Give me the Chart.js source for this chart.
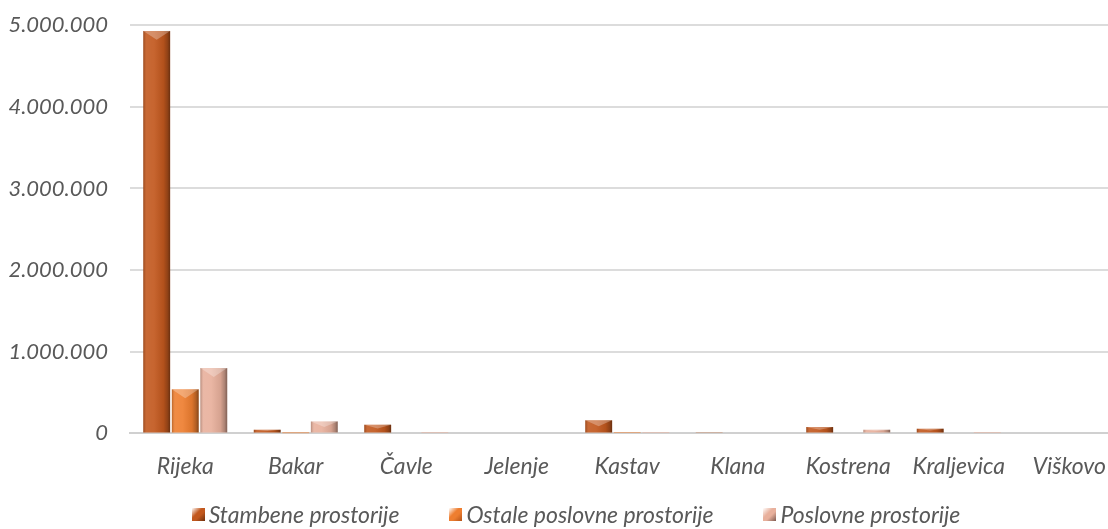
<!DOCTYPE html>
<html>
<head>
<meta charset="utf-8">
<script src="https://cdn.jsdelivr.net/npm/chart.js@4"></script>
<style>
    html, body { margin: 0; padding: 0; overflow: hidden; background: #fff; }
    #wrap { position: relative; width: 1125px; height: 529px; }
    #box { position: absolute; left: 0; top: -10px; width: 1125px; height: 512px; }
    #legend {
        position: absolute; left: 0; top: 500px; width: 1152px;
        display: flex; justify-content: center;
        font: italic 23px Lato, sans-serif; color: #595959;
    }
    #legend span.item { display: flex; align-items: center; margin: 0 25px; }
    #legend span.sw { width: 13px; height: 13px; margin-right: 4px; }
</style>
</head>
<body>
<div id="wrap">
    <div id="box"><canvas id="chart"></canvas></div>
    <div id="legend"></div>
</div>
<script>
const categories = ["Rijeka", "Bakar", "Čavle", "Jelenje", "Kastav", "Klana", "Kostrena", "Kraljevica", "Viškovo"];
const seriesNames = ["Stambene prostorije", "Ostale poslovne prostorije", "Poslovne prostorije"];
const stambene = [4930000, 45000, 107000, 0, 160000, 8000, 78000, 58000, 0];
const ostale = [540000, 3000, 0, 0, 4000, 0, 0, 0, 0];
const poslovne = [800000, 147000, 6000, 0, 5000, 0, 45000, 6000, 0];
const yTicks = [0, 1000000, 2000000, 3000000, 4000000, 5000000];

const colors = ["#C2581E", "#EE7E30", "#E8B09C"];
const edges = ["#6E300E", "#B5541A", "#7E5A50"];

function fmt(v) {
    return String(v).replace(/\B(?=(\d{3})+(?!\d))/g, ".");
}

// bevel look on top of every bar, using the bar elements' own geometry
const bevel = {
    id: "bevel",
    afterDatasetsDraw(chart) {
        const ctx = chart.ctx;
        chart.data.datasets.forEach((ds, i) => {
            chart.getDatasetMeta(i).data.forEach(bar => {
                const { x, y, width, base } = bar;
                const l = x - width / 2, r = x + width / 2, h = base - y;
                if (h < 0.5) return;
                ctx.save();
                const g = ctx.createLinearGradient(l, 0, r, 0);
                g.addColorStop(0, "rgba(0,0,0,0.22)");
                g.addColorStop(0.12, "rgba(255,255,255,0.10)");
                g.addColorStop(0.4, "rgba(255,255,255,0.08)");
                g.addColorStop(0.75, "rgba(0,0,0,0.08)");
                g.addColorStop(0.9, "rgba(0,0,0,0.25)");
                g.addColorStop(1, "rgba(0,0,0,0.45)");
                ctx.fillStyle = g;
                ctx.fillRect(l, y, width, h);
                const d = Math.min(width * 0.33, h * 0.5);
                ctx.beginPath();
                ctx.moveTo(l, y);
                ctx.lineTo(r, y);
                ctx.lineTo(x, y + d);
                ctx.closePath();
                ctx.fillStyle = "rgba(255,255,255,0.28)";
                ctx.fill();
                ctx.restore();
            });
        });
    }
};

const datasets = [stambene, ostale, poslovne].map((values, i) => ({
    label: seriesNames[i],
    data: values,
    backgroundColor: colors[i],
    borderWidth: 0,
    categoryPercentage: 0.775,
    barPercentage: 0.94,
}));

const xFont = { family: "Lato", size: 23, style: "italic" };
const yFont = { family: "Lato", size: 22, style: "italic" };

new Chart(document.getElementById("chart"), {
    type: "bar",
    data: { labels: categories, datasets },
    options: {
        responsive: true,
        maintainAspectRatio: false,
        animation: false,
        layout: { padding: { top: 14, left: 8, right: 0, bottom: 3 } },
        plugins: {
            legend: { display: false },
            tooltip: { enabled: false },
        },
        scales: {
            x: {
                grid: { display: false, drawTicks: false },
                border: { display: true, color: "#d0d0d0", width: 2 },
                ticks: { color: "#595959", font: xFont, padding: 19, maxRotation: 0 },
            },
            y: {
                min: 0,
                max: 5000000,
                afterBuildTicks: scale => { scale.ticks = yTicks.map(v => ({ value: v })); },
                afterFit: scale => { scale.width = 122; },
                grid: { color: "#dcdcdc", lineWidth: 2, drawTicks: false },
                border: { display: false },
                ticks: { color: "#595959", font: yFont, padding: 22, callback: v => fmt(v) },
            },
        },
    },
    plugins: [bevel],
});

// legend built from the same series names and colours
const legend = document.getElementById("legend");
seriesNames.forEach((name, i) => {
    const item = document.createElement("span");
    item.className = "item";
    const sw = document.createElement("span");
    sw.className = "sw";
    sw.style.background = `linear-gradient(135deg, rgba(255,255,255,0.3) 0%, ${colors[i]} 40%, ${colors[i]} 60%, ${edges[i]} 100%)`;
    item.appendChild(sw);
    item.appendChild(document.createTextNode(name));
    legend.appendChild(item);
});
</script>
</body>
</html>
